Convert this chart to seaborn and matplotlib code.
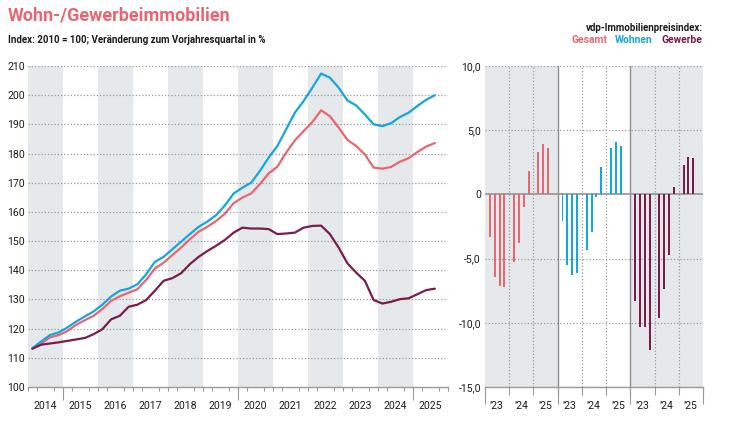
import matplotlib
matplotlib.use("Agg")
import matplotlib.pyplot as plt
import seaborn as sns
import pandas as pd
import numpy as np
from matplotlib.ticker import FixedLocator, FuncFormatter

# Indexwerte 2014Q1 .. 2025Q3 (2010 = 100)
quartale = [f"{j}Q{q}" for j in range(2014, 2026) for q in range(1, 5)][:47]
gesamt = [113.3, 114.9, 117.0, 117.8, 119.2, 121.3, 122.9, 124.4,
          126.7, 129.5, 131.1, 132.3, 133.5, 136.7, 140.6, 142.6,
          145.2, 147.8, 150.6, 153.2, 154.9, 156.9, 159.4, 163.0,
          164.9, 166.3, 169.5, 173.2, 175.5, 180.3, 184.5, 187.7,
          190.8, 194.8, 192.8, 188.9, 184.7, 182.6, 179.7, 175.2,
          174.8, 175.4, 177.2, 178.4, 180.5, 182.4, 183.6]
wohnen = [113.3, 115.6, 117.8, 118.7, 120.4, 122.4, 124.2, 125.9,
          128.2, 131.0, 133.0, 133.7, 135.2, 138.6, 142.9, 144.6,
          147.2, 149.8, 152.4, 154.9, 156.7, 158.9, 162.2, 166.3,
          168.3, 170.0, 174.0, 178.6, 182.6, 188.3, 194.0, 198.0,
          202.6, 207.4, 206.0, 202.6, 198.2, 196.5, 193.4, 190.0,
          189.4, 190.4, 192.5, 194.0, 196.3, 198.4, 200.0]
gewerbe = [113.1, 114.5, 114.9, 115.3, 115.8, 116.3, 116.8, 118.1,
           119.8, 123.2, 124.4, 127.5, 128.2, 129.8, 133.0, 136.4,
           137.3, 139.0, 142.1, 144.6, 146.6, 148.4, 150.4, 152.9,
           154.6, 154.3, 154.3, 154.1, 152.4, 152.6, 152.9, 154.6,
           155.2, 155.3, 152.4, 147.8, 142.4, 139.2, 136.4, 129.8,
           128.6, 129.2, 130.1, 130.4, 131.8, 133.2, 133.7]

# Veraenderung zum Vorjahresquartal in %, 2023Q1 .. 2025Q3
vj_quartale = quartale[36:]
gesamt_vj = [-3.3, -6.4, -7.1, -7.2, -5.3, -3.8, -1.0, 1.8, 3.3, 3.9, 3.6]
wohnen_vj = [-2.1, -5.5, -6.3, -6.1, -4.3, -2.9, -0.2, 2.1, 3.6, 4.1, 3.8]
gewerbe_vj = [-8.3, -10.3, -10.3, -12.1, -9.6, -7.4, -4.7, 0.6, 2.3, 2.9, 2.8]

serien = ["Gesamt", "Wohnen", "Gewerbe"]
jahre = list(range(2014, 2026))
vj_labels = ["\u201923", "\u201924", "\u201925"]

farben = {"Gesamt": "#e8666f", "Wohnen": "#14a6de", "Gewerbe": "#7a1d4b"}
grau = "#e6e9ec"
textfarbe = "#1c1c1c"
gridkw = dict(color="#9a9a9a", lw=0.9, linestyle=(0, (1, 1.6)), zorder=1)

sns.set_style("white")
plt.rcParams["font.family"] = ["Roboto", "DejaVu Sans"]


def qpos(q):
    j, n = q.split("Q")
    return int(j), int(n)


linien = pd.DataFrame({
    "x": [qpos(q)[0] + (qpos(q)[1] - 0.5) / 4 for q in quartale] * 3,
    "wert": gesamt + wohnen + gewerbe,
    "serie": np.repeat(serien, len(quartale)),
})

balken = []
for g, (s, werte) in enumerate(zip(serien, [gesamt_vj, wohnen_vj, gewerbe_vj])):
    for q, w in zip(vj_quartale, werte):
        j, n = qpos(q)
        balken.append({"pos": g * 3 + (j - 2023) + 0.5 + (n - 2.5) * 0.2,
                       "wert": w, "serie": s})
balken = pd.DataFrame(balken)

fig = plt.figure(figsize=(7.29, 4.28), dpi=100)
fig.patch.set_facecolor("white")
W, H = 729, 428
ax = fig.add_axes([28 / W, 1 - 387 / H, 420 / W, 321 / H])
ax2 = fig.add_axes([485 / W, 1 - 387 / H, 218 / W, 321 / H])

# --- Linienchart ---
for j in jahre[::2]:
    ax.axvspan(j, j + 1, color=grau, lw=0, zorder=0)
for y in range(110, 211, 10):
    ax.axhline(y, **gridkw)
sns.lineplot(data=linien, x="x", y="wert", hue="serie", palette=farben,
             hue_order=serien, linewidth=1.6, legend=False, ax=ax, zorder=3)
ax.set_xlim(2014, 2026)
ax.set_ylim(100, 210)
ax.set_xlabel("")
ax.set_ylabel("")
ax.set_yticks(range(100, 211, 10))
ax.xaxis.set_major_locator(FixedLocator([j + 0.5 for j in jahre]))
ax.set_xticklabels([str(j) for j in jahre])
ax.xaxis.set_minor_locator(FixedLocator(np.arange(2014, 2026.01, 0.25)))
ax.tick_params(axis="x", which="major", length=0, pad=10, labelsize=7.6,
               labelcolor=textfarbe)
ax.tick_params(axis="x", which="minor", length=3, width=0.8, color="#9a9a9a",
               direction="out", bottom=True)
ax.tick_params(axis="y", length=0, pad=2, labelsize=7.6, labelcolor=textfarbe)
for sp in ["top", "right", "left"]:
    ax.spines[sp].set_visible(False)
ax.spines["bottom"].set_color("#9a9a9a")
ax.spines["bottom"].set_linewidth(1.0)
sek = ax.secondary_xaxis("bottom")
sek.set_xticks([2015, 2020, 2025])
sek.tick_params(length=9, width=0.8, color="#9a9a9a", labelbottom=False)
sek.spines["bottom"].set_visible(False)

# --- Balkenchart ---
ax2.axvspan(0, 3, color=grau, lw=0, zorder=0)
ax2.axvspan(6, 9, color=grau, lw=0, zorder=0)
for y in [10, 5, -5, -10, -15]:
    ax2.axhline(y, **gridkw)
for x in [1, 2, 4, 5, 7, 8]:
    ax2.axvline(x, **gridkw)
for x in [3, 6]:
    ax2.axvline(x, color="#8c8c8c", lw=1.0, zorder=1)
sns.barplot(data=balken, x="pos", y="wert", hue="serie", palette=farben,
            hue_order=serien, native_scale=True, dodge=False, width=0.4,
            saturation=1, errorbar=None, linewidth=0, legend=False, ax=ax2,
            zorder=3)
ax2.axhline(0, color="#8c8c8c", lw=1.1, zorder=2)
ax2.set_xlim(0, 9)
ax2.set_ylim(-15, 10)
ax2.set_xlabel("")
ax2.set_ylabel("")
ax2.set_yticks([-15, -10, -5, 0, 5, 10])
ax2.yaxis.set_major_formatter(FuncFormatter(
    lambda v, p: "0" if v == 0 else f"{v:.1f}".replace(".", ",")))
ax2.xaxis.set_major_locator(FixedLocator([k + 0.5 for k in range(9)]))
ax2.set_xticklabels(vj_labels * 3)
ax2.xaxis.set_minor_locator(FixedLocator(range(10)))
ax2.tick_params(axis="x", which="major", length=0, pad=10, labelsize=7.6,
                labelcolor=textfarbe)
ax2.tick_params(axis="x", which="minor", length=6, width=0.8, color="#9a9a9a",
                direction="out", bottom=True)
ax2.tick_params(axis="y", length=0, pad=3, labelsize=7.6, labelcolor=textfarbe)
for sp in ["top", "right", "left"]:
    ax2.spines[sp].set_visible(False)
ax2.spines["bottom"].set_color("#9a9a9a")
ax2.spines["bottom"].set_linewidth(1.0)
sek2 = ax2.secondary_xaxis("bottom")
sek2.set_xticks([0, 3, 6, 9])
sek2.tick_params(length=12, width=0.8, color="#9a9a9a", labelbottom=False)
sek2.spines["bottom"].set_visible(False)

# --- Texte ---
fig.text(8 / W, 1 - 16 / H, "Wohn-/Gewerbeimmobilien", color=farben["Gesamt"],
         fontsize=13, fontweight="bold", va="center", ha="left")
fig.text(8 / W, 1 - 40 / H,
         "Index: 2010 = 100; Veränderung zum Vorjahresquartal in %",
         color=textfarbe, fontsize=7.0, fontweight="bold", va="center", ha="left")
fig.text(703 / W, 1 - 28 / H, "vdp-Immobilienpreisindex:", color=textfarbe,
         fontsize=7.0, fontweight="bold", va="center", ha="right")
for s, xpix in zip(serien, [572, 615, 661]):
    fig.text(xpix / W, 1 - 40 / H, s, color=farben[s], fontsize=7.4,
             fontweight="bold", va="center", ha="left")

fig.savefig("out.png", dpi=100, facecolor="white")
